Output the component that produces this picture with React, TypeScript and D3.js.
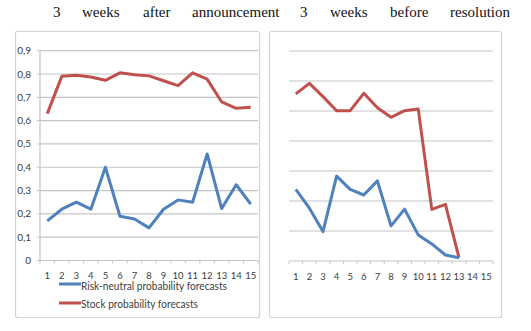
import React from "react";
import * as d3 from "d3";

const categories = d3.range(1, 16).map(String);
const leftRiskNeutral = [0.17, 0.22, 0.25, 0.22, 0.40, 0.19, 0.178, 0.14, 0.22, 0.26, 0.25, 0.457, 0.223, 0.325, 0.242];
const leftStock = [0.63, 0.79, 0.795, 0.787, 0.773, 0.805, 0.797, 0.792, 0.771, 0.75, 0.805, 0.778, 0.68, 0.653, 0.657];
const rightRiskNeutral = [0.239, 0.176, 0.098, 0.283, 0.239, 0.22, 0.267, 0.117, 0.173, 0.087, 0.057, 0.02, 0.011];
const rightStock = [0.557, 0.592, 0.548, 0.501, 0.501, 0.559, 0.511, 0.479, 0.501, 0.507, 0.172, 0.189, 0.011];
const leftTicks = [0, 0.1, 0.2, 0.3, 0.4, 0.5, 0.6, 0.7, 0.8, 0.9];
const rightTicks = [0, 0.1, 0.2, 0.3, 0.4, 0.5, 0.6, 0.7];
const titleWords = ["3", "weeks", "after", "announcement", "3", "weeks", "before", "resolution"];
const legendLabels = ["Risk-neutral probability forecasts", "Stock probability forecasts"];

const BLUE = "#4f81bd";
const RED = "#c0504d";
const GRID = "#c4c4c4";
const TEXT = "#404040";
const FONT = "Lato, Liberation Sans, Arial, sans-serif";

const titleX = [53, 82, 143, 192, 300, 330, 390, 450];

function Panel(props: {
  x0: number; x1: number; yTop: number; yBottom: number;
  ticks: number[]; yMax: number; showY: boolean;
  blue: number[]; red: number[];
}) {
  const { x0, x1, yTop, yBottom, ticks, yMax, showY, blue, red } = props;
  const x = d3.scaleBand<string>().domain(categories).range([x0, x1]).padding(0);
  const y = d3.scaleLinear().domain([0, yMax]).range([yBottom, yTop]);
  const cx = (i: number) => (x(categories[i]) as number) + x.bandwidth() / 2;
  const line = d3.line<number>().x((_, i) => cx(i)).y((d) => y(d));
  const fmt = (v: number) => (v === 0 ? "0" : d3.format(".1f")(v).replace(".", ","));
  return (
    <g>
      {ticks.filter((t) => t > 0).map((t) => (
        <line key={t} x1={x0} x2={x1} y1={y(t)} y2={y(t)} stroke={GRID} strokeWidth={1.2} />
      ))}
      <line x1={x0} x2={x1} y1={y(0)} y2={y(0)} stroke={GRID} strokeWidth={1.2} />
      {d3.range(categories.length + 1).map((i) => {
        const xx = x0 + i * x.bandwidth();
        return <line key={i} x1={xx} x2={xx} y1={y(0)} y2={y(0) + 3} stroke={GRID} strokeWidth={1} />;
      })}
      {categories.map((c, i) => (
        <text key={c} x={cx(i)} y={y(0) + 18.5} textAnchor="middle" fontSize={9.5} fill={TEXT} fontFamily={FONT}>{c}</text>
      ))}
      {showY && (
        <g>
          <line x1={x0} x2={x0} y1={y(0)} y2={y(yMax)} stroke={GRID} strokeWidth={1.2} />
          {ticks.map((t) => (
            <g key={t}>
              <line x1={x0 - 3} x2={x0} y1={y(t)} y2={y(t)} stroke={GRID} strokeWidth={1} />
              <text x={x0 - 9} y={y(t) + 3.5} textAnchor="end" fontSize={10} fill={TEXT} fontFamily={FONT}>{fmt(t)}</text>
            </g>
          ))}
        </g>
      )}
      <path d={line(red) || ""} fill="none" stroke={RED} strokeWidth={3} strokeLinejoin="round" />
      <path d={line(blue) || ""} fill="none" stroke={BLUE} strokeWidth={3} strokeLinejoin="round" />
    </g>
  );
}

export default function App() {
  return (
    <svg width={531} height={331} style={{ position: "absolute", left: 0, top: 0, background: "#fff" }}>
      <rect x={0} y={0} width={531} height={331} fill="#fff" />
      {titleWords.map((w, i) => (
        <text key={i} x={titleX[i]} y={17} fontSize={15} fontFamily="Liberation Serif, Times New Roman, serif" fill="#111">{w}</text>
      ))}
      <rect x={15.5} y={31.5} width={244} height={286} fill="#fff" stroke="#d4d4d4" strokeWidth={1.2} rx={2} />
      <rect x={269.5} y={31.5} width={232} height={286} fill="#fff" stroke="#d4d4d4" strokeWidth={1.2} rx={2} />
      <Panel x0={40} x1={258} yTop={50.7} yBottom={260.5} ticks={leftTicks} yMax={0.9} showY={true}
        blue={leftRiskNeutral} red={leftStock} />
      <Panel x0={289} x1={493} yTop={51} yBottom={261} ticks={rightTicks} yMax={0.7} showY={false}
        blue={rightRiskNeutral} red={rightStock} />
      <line x1={59} x2={81} y1={284} y2={284} stroke={BLUE} strokeWidth={3} />
      <text x={81} y={289.5} fontSize={10.5} fill={TEXT} fontFamily={FONT} textLength={146} lengthAdjust="spacingAndGlyphs">{legendLabels[0]}</text>
      <line x1={59} x2={81} y1={303} y2={303} stroke={RED} strokeWidth={3} />
      <text x={81} y={308} fontSize={10.5} fill={TEXT} fontFamily={FONT} textLength={117} lengthAdjust="spacingAndGlyphs">{legendLabels[1]}</text>
    </svg>
  );
}
